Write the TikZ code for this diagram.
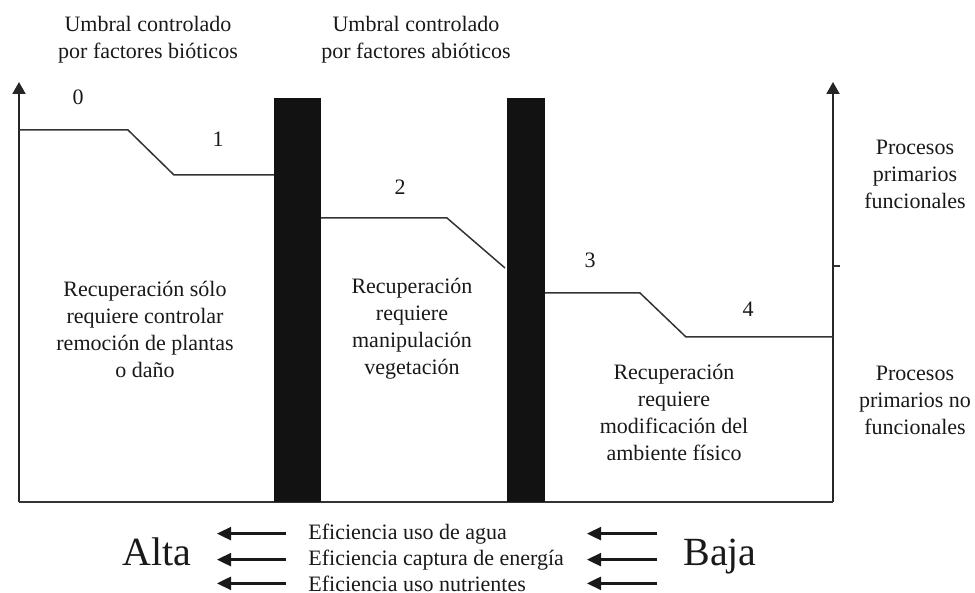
\documentclass[tikz,border=0pt]{standalone}
\usepackage{fontspec}
\setmainfont{Liberation Serif}
\usetikzlibrary{arrows.meta}

\begin{document}
\begin{tikzpicture}[x=0.5pt, y=-0.5pt,
    axis/.style={line width=1pt, draw=black!85, -{Triangle[length=6pt, width=6.5pt]}},
    level/.style={line width=0.75pt, draw=black!80},
    barrier/.style={fill=black!93},
    txt/.style={font=\fontsize{11}{13.5}\selectfont, text=black!90, align=center, inner sep=0pt},
    num/.style={txt, anchor=base},
    eff/.style={txt, anchor=base west},
    big/.style={font=\fontsize{20}{24}\selectfont, text=black!90, anchor=base, inner sep=0pt},
    flow/.style={line width=1.2pt, draw=black!90, -{Triangle[length=7pt, width=6.5pt]}}]
    \useasboundingbox (0,0) rectangle (975,593);

    % Axes
    \coordinate (o) at (19,502);
    \coordinate (otop) at (19,82);
    \coordinate (r) at (833,502);
    \coordinate (rtop) at (833,82);
    \draw[axis] (o) -- (otop);
    \draw[axis] (r) -- (rtop);
    \draw[level, line width=1pt] (o) -- (r);
    \draw[level] (833,266) -- (840,266);

    % Thresholds
    \fill[barrier] (274,98) rectangle (321,502);
    \fill[barrier] (507,98) rectangle (545,502);

    % States (steps)
    \draw[level] (19,130) -- (128,130) -- (174,175) -- (274,175);
    \draw[level] (321,218) -- (447,218) -- (505,268);
    \draw[level] (545,293) -- (640,293) -- (686,337) -- (833,337);

    \node[num] (s0) at (78,105) {0};
    \node[num] (s1) at (218,147) {1};
    \node[num] (s2) at (400,195) {2};
    \node[num] (s3) at (590,268) {3};
    \node[num] (s4) at (748,317) {4};

    % Threshold labels
    \node[txt] (biot) at (148,40) {Umbral controlado\\por factores bióticos};
    \node[txt] (abiot) at (416,40) {Umbral controlado\\por factores abióticos};

    % Recovery
    \node[txt] (rec1) at (145,329) {Recuperación sólo\\requiere controlar\\remoción de plantas\\o daño};
    \node[txt] (rec2) at (412,329) {Recuperación\\requiere\\manipulación\\vegetación};
    \node[txt] (rec3) at (674,412) {Recuperación\\requiere\\modificación del\\ambiente físico};

    % Right side
    \node[txt] (func) at (915,174) {Procesos\\primarios\\funcionales};
    \node[txt] (nofunc) at (915,400) {Procesos\\primarios no\\funcionales};

    % Efficiencies
    \node[big] (alta) at (157,565) {Alta};
    \node[big] (baja) at (720,565) {Baja};
    \node[eff] (agua) at (308,539) {Eficiencia uso de agua};
    \node[eff] (energia) at (308,565) {Eficiencia captura de energía};
    \node[eff] (nutr) at (308,591) {Eficiencia uso nutrientes};

    \coordinate (ltail) at (286,0);
    \coordinate (lhead) at (217,0);
    \coordinate (rtail) at (657,0);
    \coordinate (rhead) at (587,0);
    \draw[flow] (agua.west -| ltail) -- (agua.west -| lhead);
    \draw[flow] (energia.west -| ltail) -- (energia.west -| lhead);
    \draw[flow] (nutr.west -| ltail) -- (nutr.west -| lhead);
    \draw[flow] (agua.west -| rtail) -- (agua.west -| rhead);
    \draw[flow] (energia.west -| rtail) -- (energia.west -| rhead);
    \draw[flow] (nutr.west -| rtail) -- (nutr.west -| rhead);
\end{tikzpicture}
\end{document}
